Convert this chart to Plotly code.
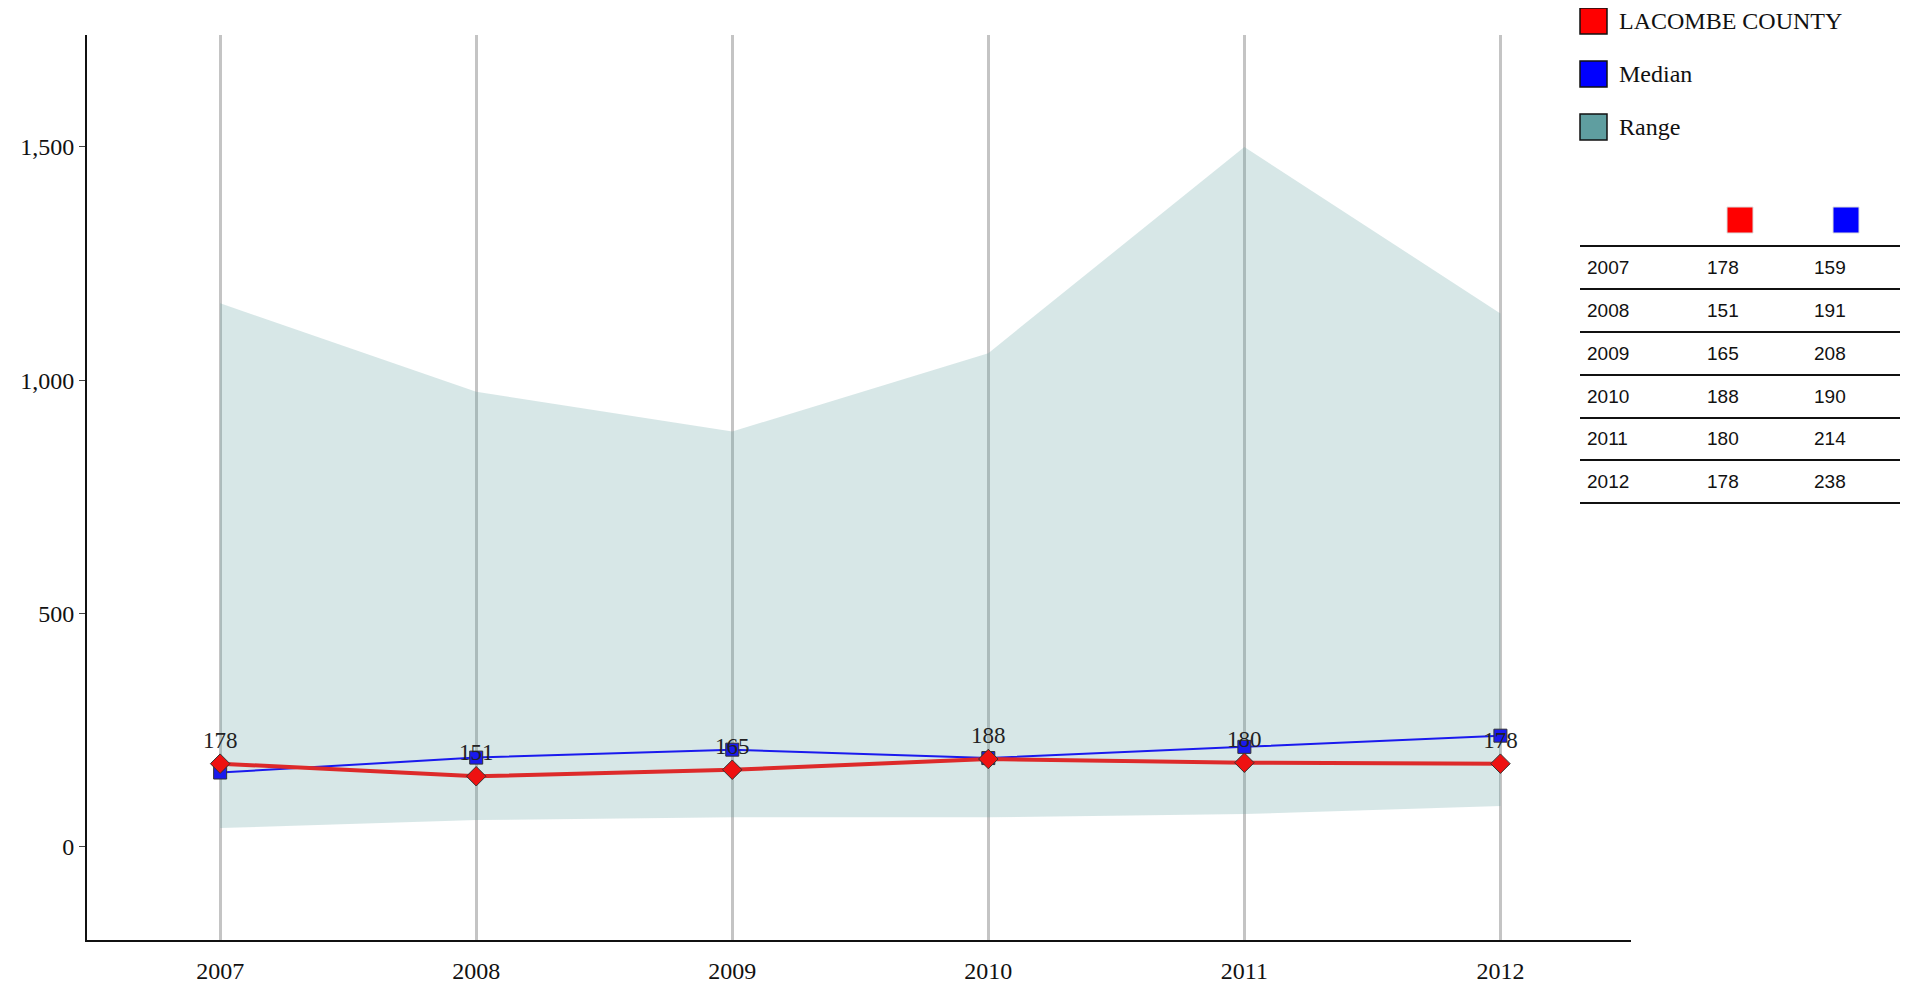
import plotly.graph_objects as go

years = [2007, 2008, 2009, 2010, 2011, 2012]
county = [178, 151, 165, 188, 180, 178]
median = [159, 191, 208, 190, 214, 238]
range_hi = [1165, 975, 890, 1058, 1500, 1143]
range_lo = [40, 57, 63, 63, 70, 87]

W, H = 1911, 987
L, R, T, B = 79, 1623, 27, 932


def px(x):
    return (x - L) / (R - L)


def py(y):
    return (B - y) / (B - T)


fig = go.Figure()
fig.add_trace(go.Scatter(x=years, y=range_lo, mode="lines", line=dict(width=0),
                         showlegend=False, hoverinfo="skip"))
fig.add_trace(go.Scatter(x=years, y=range_hi, mode="lines", line=dict(width=0),
                         fill="tonexty", fillcolor="rgba(95,158,160,0.25)",
                         showlegend=False))
fig.add_trace(go.Scatter(x=years, y=median, mode="lines+markers",
                         line=dict(color="#1a1aee", width=2),
                         marker=dict(symbol="square", size=13, color="#1a1aee",
                                     line=dict(color="#333", width=1)),
                         showlegend=False))
fig.add_trace(go.Scatter(x=years, y=county, mode="lines+markers+text",
                         text=[str(v) for v in county], textposition="top center",
                         textfont=dict(family="Liberation Serif", size=23, color="#222"),
                         line=dict(color="#dd2a2a", width=4),
                         marker=dict(symbol="diamond", size=15, color="#ee1111",
                                     line=dict(color="#333", width=1)),
                         showlegend=False))

shapes = []
annos = []
# legend
legend = [("LACOMBE COUNTY", "#ff0000"), ("Median", "#0000ff"), ("Range", "#5f9ea0")]
for i, (name, col) in enumerate(legend):
    yc = 13 + i * 53
    shapes.append(dict(type="rect", xref="paper", yref="paper",
                       x0=px(1572), x1=px(1599), y0=py(yc + 13), y1=py(yc - 13),
                       fillcolor=col, line=dict(color="#111", width=1.5)))
    annos.append(dict(xref="paper", yref="paper", x=px(1609), y=py(yc), text=name,
                      showarrow=False, xanchor="left", yanchor="middle",
                      font=dict(family="Liberation Serif", size=24, color="#111")))
# table header squares
for xc, col in [(1732, "#ff0000"), (1838, "#0000ff")]:
    shapes.append(dict(type="rect", xref="paper", yref="paper",
                       x0=px(xc - 13), x1=px(xc + 13), y0=py(225), y1=py(199),
                       fillcolor=col, line=dict(color="#ddd", width=1)))
lines_y = [238, 281, 324, 367, 410, 452, 495]
for yl in lines_y:
    shapes.append(dict(type="line", xref="paper", yref="paper",
                       x0=px(1572), x1=px(1892), y0=py(yl), y1=py(yl),
                       line=dict(color="#111", width=2)))
for i, yr in enumerate(years):
    yc = (lines_y[i] + lines_y[i + 1]) / 2
    for xx, txt in [(1577, yr), (1697, county[i]), (1804, median[i])]:
        annos.append(dict(xref="paper", yref="paper", x=px(xx), y=py(yc), text=str(txt),
                          showarrow=False, xanchor="left", yanchor="middle",
                          font=dict(family="Liberation Sans", size=19, color="#111")))

fig.update_layout(
    width=W, height=H, margin=dict(l=L, r=W - R, t=T, b=H - B),
    plot_bgcolor="white", paper_bgcolor="white",
    shapes=shapes, annotations=annos,
    font=dict(family="Liberation Serif", size=24, color="#111"),
)
fig.update_xaxes(range=[2006.48, 2012.51], tickvals=years, showgrid=True,
                 gridcolor="#c4c4c4", gridwidth=3, showline=True, linecolor="#111",
                 linewidth=2, zeroline=False, ticks="outside", ticklen=8,
                 tickcolor="rgba(0,0,0,0)")
fig.update_yaxes(range=[-200, 1740], tickvals=[0, 500, 1000, 1500], tickformat=",",
                 showgrid=False, showline=True, linecolor="#111", linewidth=2,
                 zeroline=False, ticks="outside", ticklen=6)
fig.write_html("out.html")
